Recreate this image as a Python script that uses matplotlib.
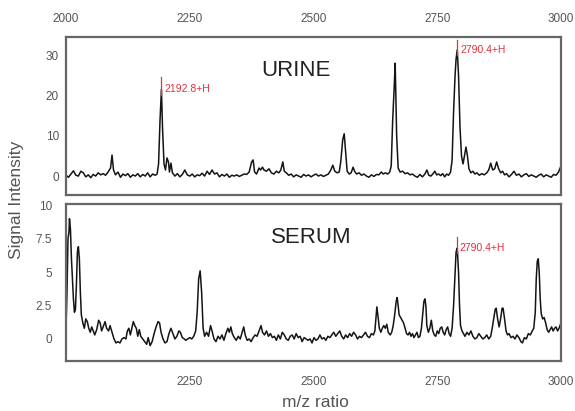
import matplotlib
matplotlib.use("Agg")
import matplotlib.pyplot as plt

plt.rcParams['font.family'] = ['Liberation Sans', 'DejaVu Sans']

# ---------------- data ----------------
urine_mz = [2000, 2005, 2010, 2015, 2020, 2025, 2030, 2035, 2040, 2045, 2050, 2055, 2060, 2065, 2070, 2075,
            2080, 2085, 2090, 2093, 2096, 2100, 2105, 2110, 2115, 2120, 2125, 2130, 2135, 2140, 2145, 2150,
            2155, 2160, 2165, 2170, 2175, 2180, 2184, 2187, 2190, 2192.8, 2195, 2198, 2201, 2204, 2207, 2209,
            2212, 2215, 2220, 2225, 2230, 2235, 2240, 2245, 2250, 2255, 2260, 2265, 2270, 2275, 2280, 2285,
            2290, 2295, 2300, 2305, 2310, 2315, 2320, 2325, 2330, 2335, 2340, 2345, 2350, 2355, 2360, 2365,
            2370, 2375, 2378, 2381, 2385, 2390, 2393, 2397, 2400, 2405, 2410, 2415, 2420, 2425, 2430, 2434,
            2438, 2441, 2445, 2450, 2455, 2460, 2465, 2470, 2475, 2480, 2485, 2490, 2495, 2500, 2505, 2510,
            2515, 2520, 2525, 2530, 2535, 2539, 2543, 2548, 2552, 2555, 2559, 2562, 2565, 2568, 2572, 2576,
            2580, 2583, 2587, 2592, 2597, 2602, 2607, 2612, 2617, 2622, 2627, 2632, 2637, 2641, 2645, 2650,
            2654, 2657, 2660, 2663, 2665, 2668, 2671, 2675, 2680, 2685, 2690, 2695, 2700, 2705, 2710, 2715,
            2720, 2725, 2729, 2733, 2737, 2741, 2745, 2749, 2753, 2757, 2761, 2765, 2769, 2773, 2777, 2780,
            2783, 2786, 2788, 2790.4, 2793, 2796, 2799, 2802, 2805, 2808, 2811, 2814, 2818, 2822, 2826, 2830,
            2835, 2840, 2845, 2850, 2854, 2858, 2862, 2866, 2870, 2874, 2878, 2882, 2886, 2890, 2895, 2900,
            2905, 2910, 2915, 2920, 2925, 2930, 2935, 2940, 2945, 2950, 2955, 2960, 2965, 2970, 2975, 2980,
            2985, 2990, 2995, 3000]
urine_int = [0.2, -0.3, 0.5, 1.3, 0.2, 0.0, 1.2, 0.8, -0.2, 0.3, -0.4, 0.4, 0.0, 0.8, 0.3, 0.6,
             0.2, 1.0, 2.0, 5.2, 1.5, 0.3, 1.0, -0.3, 0.5, 0.1, 0.6, -0.3, 0.3, 0.0, 0.6, -0.2,
             0.4, 0.0, 0.8, -0.2, 0.5, 0.2, 0.5, 3.0, 14.0, 21.5, 12.0, 3.0, 1.5, 4.5, 3.5, 1.0,
             3.2, 0.8, 0.0, 0.6, -0.2, 0.4, 1.5, 0.3, 0.0, 0.5, -0.2, 0.3, 0.1, 0.7, 0.0, 1.2,
             0.4, 1.5, 0.5, 0.8, -0.2, 0.4, 0.0, 0.5, -0.3, 0.2, 0.0, 0.3, -0.1, 0.2, 0.5, 0.4,
             1.0, 3.5, 4.0, 1.0, 0.5, 2.0, 1.5, 2.2, 1.5, 1.2, 1.8, 0.8, 0.5, 1.2, 0.8, 1.5,
             3.5, 1.2, 0.8, 0.2, 0.5, -0.2, 0.3, 0.0, -0.3, 0.4, 0.0, 0.3, -0.2, 0.2, 0.5, 0.0,
             0.3, -0.1, 0.2, 0.5, 1.5, 2.7, 1.2, 0.8, 1.0, 3.5, 9.0, 10.5, 6.0, 1.2, 0.5, 0.8,
             2.2, 1.2, 0.5, 0.8, 0.2, 0.5, 0.0, -0.3, 0.3, -0.1, 0.4, 0.3, 1.0, 0.5, 0.8, 0.5,
             1.0, 2.5, 14.0, 22.0, 28.0, 10.0, 2.0, 1.0, 1.2, 0.6, 0.8, 0.3, 0.5, 0.0, -0.3, 0.4,
             -0.2, 0.5, 1.5, 0.2, 0.0, 0.5, 1.2, 0.3, 0.5, 0.1, 0.6, -0.2, 0.5, 0.2, 1.0, 4.0,
             16.0, 25.0, 29.0, 31.3, 25.0, 12.0, 5.0, 3.0, 5.0, 7.2, 5.0, 1.8, 0.8, 1.2, 0.5, 0.8,
             0.2, 0.6, 0.3, 0.8, 1.5, 3.2, 1.5, 1.8, 3.5, 1.8, 0.8, 1.2, 0.3, 0.6, -0.2, 0.4,
             1.2, 0.2, 0.5, -0.2, 0.3, 0.6, -0.1, 0.3, 0.0, -0.3, 0.2, 0.5, -0.2, 0.3, 0.0, -0.3,
             0.4, 0.2, 1.0, 2.5]

serum_mz = [2000, 2002, 2004, 2006, 2007, 2009, 2011, 2013, 2015, 2017, 2019, 2021, 2023, 2025, 2027, 2029,
            2031, 2034, 2037, 2040, 2043, 2046, 2049, 2052, 2055, 2058, 2062, 2066, 2069, 2072, 2075, 2079,
            2082, 2086, 2089, 2093, 2097, 2101, 2105, 2109, 2113, 2117, 2121, 2124, 2127, 2130, 2133, 2136,
            2139, 2142, 2145, 2148, 2151, 2155, 2159, 2163, 2166, 2170, 2174, 2178, 2182, 2186, 2189, 2192,
            2196, 2200, 2204, 2208, 2212, 2216, 2220, 2224, 2228, 2231, 2235, 2239, 2242, 2246, 2250, 2254,
            2258, 2262, 2265, 2268, 2271, 2274, 2277, 2280, 2284, 2288, 2292, 2295, 2299, 2303, 2307, 2311,
            2315, 2319, 2323, 2327, 2330, 2333, 2336, 2340, 2344, 2348, 2352, 2356, 2359, 2362, 2366, 2370,
            2374, 2378, 2382, 2386, 2390, 2394, 2397, 2401, 2405, 2409, 2413, 2417, 2421, 2425, 2429, 2433,
            2437, 2441, 2445, 2449, 2453, 2457, 2461, 2465, 2469, 2473, 2477, 2481, 2485, 2489, 2493, 2497,
            2501, 2505, 2509, 2513, 2517, 2521, 2525, 2529, 2533, 2537, 2541, 2545, 2549, 2553, 2557, 2561,
            2565, 2569, 2573, 2577, 2581, 2585, 2589, 2593, 2597, 2601, 2605, 2609, 2613, 2617, 2621, 2624,
            2626, 2628, 2630, 2633, 2636, 2639, 2642, 2645, 2648, 2651, 2655, 2658, 2661, 2664, 2667, 2669,
            2671, 2673, 2676, 2679, 2682, 2685, 2688, 2691, 2694, 2697, 2700, 2703, 2706, 2709, 2712, 2715,
            2718, 2721, 2723, 2725, 2727, 2729, 2732, 2735, 2738, 2741, 2744, 2747, 2750, 2753, 2756, 2759,
            2762, 2765, 2768, 2771, 2774, 2777, 2780, 2783, 2786, 2788, 2790.4, 2793, 2795, 2797, 2800, 2803,
            2806, 2810, 2814, 2818, 2822, 2826, 2830, 2834, 2838, 2842, 2846, 2850, 2854, 2858, 2861, 2864,
            2867, 2869, 2872, 2875, 2878, 2881, 2883, 2886, 2889, 2892, 2895, 2899, 2903, 2907, 2911, 2915,
            2919, 2922, 2926, 2930, 2934, 2938, 2942, 2945, 2948, 2950, 2952, 2954, 2956, 2958, 2960, 2963,
            2966, 2969, 2972, 2975, 2978, 2981, 2984, 2987, 2990, 2993, 2996, 2999, 3000]
serum_int = [0.8, 3.5, 7.5, 8.0, 9.0, 8.2, 6.0, 4.5, 3.0, 2.0, 2.2, 4.0, 6.5, 6.9, 6.0, 3.5,
             1.8, 1.2, 0.8, 1.5, 1.3, 0.8, 0.5, 0.9, 0.6, 0.3, 0.7, 1.4, 1.2, 0.6, 0.9, 1.3,
             0.8, 0.6, 1.0, 0.5, 0.0, -0.3, -0.2, -0.3, 0.0, 0.1, 0.0, 0.6, 0.8, 0.3, 0.8, 1.3,
             1.0, 0.8, 0.2, 0.7, 0.2, 0.0, -0.2, -0.4, 0.1, -0.5, -0.2, 0.4, 0.9, 1.3, 1.2, 0.5,
             0.0, -0.3, -0.2, 0.4, 0.8, 0.4, 0.0, 0.2, 0.6, 0.5, 0.1, 0.0, -0.1, 0.0, 0.1, 0.0,
             0.2, 0.6, 2.0, 4.5, 5.1, 3.5, 0.8, 0.2, 0.5, 0.2, 1.0, 0.6, 0.0, -0.2, 0.2, 0.0,
             0.3, -0.1, 0.4, 0.8, 0.5, 0.9, 0.4, 0.1, -0.1, 0.2, 0.0, 0.5, 0.9, 0.3, -0.1, 0.0,
             -0.2, 0.1, 0.3, 0.2, 0.6, 1.0, 0.5, 0.3, 0.6, 0.2, 0.4, 0.1, 0.2, -0.1, 0.3, 0.0,
             0.5, 0.3, 0.0, -0.1, 0.2, 0.3, 0.0, 0.4, 0.1, 0.2, -0.2, 0.1, 0.0, -0.1, 0.0, -0.3,
             0.1, -0.1, 0.0, 0.3, 0.0, 0.1, -0.1, 0.2, 0.1, 0.3, 0.5, 0.2, 0.4, 0.6, 0.2, 0.0,
             0.3, 0.1, 0.4, 0.2, 0.5, 0.3, 0.0, 0.2, 0.1, 0.3, 0.5, 0.2, 0.1, 0.4, 0.3, 0.6,
             1.5, 2.4, 1.8, 0.8, 0.5, 0.8, 1.0, 0.8, 1.1, 0.5, 0.3, 0.5, 1.0, 1.8, 2.8, 3.1,
             2.5, 1.8, 1.6, 1.4, 1.2, 0.8, 0.4, 0.3, 0.5, 0.2, 0.4, 0.1, 0.3, 0.5, 0.1, 0.2,
             0.8, 2.0, 2.8, 3.0, 2.5, 1.0, 0.5, 0.8, 1.4, 0.6, 0.3, 0.2, 0.6, 0.4, 0.8, 0.9,
             0.5, 0.3, 0.7, 0.9, 0.4, 0.2, 0.8, 2.5, 5.0, 6.5, 6.8, 5.0, 2.5, 1.0, 0.6, 0.4,
             0.2, 0.5, 0.3, 0.6, 0.2, 0.0, 0.1, 0.4, 0.2, 0.0, 0.1, 0.3, 0.0, 0.2, 0.8, 1.5,
             2.2, 2.3, 1.5, 0.9, 1.5, 2.3, 2.3, 1.5, 0.6, 0.3, 0.4, 0.1, 0.2, 0.0, 0.3, 0.1,
             -0.2, -0.3, 0.1, 0.0, 0.4, 0.3, 0.6, 0.8, 2.0, 4.5, 5.8, 6.0, 5.0, 3.0, 1.9, 1.5,
             1.6, 1.2, 0.7, 0.5, 0.7, 0.9, 0.6, 0.8, 0.9, 0.6, 0.8, 1.1, 1.2]

top_xticks = [2000, 2250, 2500, 2750, 3000]
bottom_xticks = [2250, 2500, 2750, 3000]
top_yticks = [0, 10, 20, 30]
top_yticklabels = ["0", "10", "20", "30"]
bottom_yticks = [0, 2.5, 5, 7.5, 10]
bottom_yticklabels = ["0", "2.5", "5", "7.5", "10"]

urine_label = "URINE"
serum_label = "SERUM"
urine_peaks = [(2192.8, 21.5, "2192.8+H"), (2790.4, 31.3, "2790.4+H")]
serum_peaks = [(2790.4, 6.8, "2790.4+H")]

# ---------------- figure ----------------
W, H = 575, 411
fig = plt.figure(figsize=(W / 100, H / 100), dpi=100)

def fx(px):
    return px / W

def fy(py):
    return 1 - py / H

ax1 = fig.add_axes([fx(66), fy(195), fx(561) - fx(66), fy(37) - fy(195)])
ax2 = fig.add_axes([fx(66), fy(361), fx(561) - fx(66), fy(204) - fy(361)])

line_color = '#141414'
frame_color = '#666666'
tick_color = '#555555'
red = '#e0303a'

for ax in (ax1, ax2):
    ax.set_xlim(2000, 3000)
    for s in ax.spines.values():
        s.set_color(frame_color)
        s.set_linewidth(1.6)
    ax.tick_params(length=0, colors=tick_color, labelsize=8.5)

ax1.plot(urine_mz, urine_int, color=line_color, lw=1.1)
ax1.set_ylim(-4.7, 34.5)
ax1.set_xticks(top_xticks)
ax1.set_xticklabels([str(t) for t in top_xticks])
ax1.xaxis.set_ticks_position('top')
ax1.tick_params(axis='x', pad=9)
ax1.set_yticks(top_yticks)
ax1.set_yticklabels(top_yticklabels)
ax1.tick_params(axis='y', pad=5, labelsize=8.5)
ax1.text(2465, 26.3, urine_label, fontsize=16, color='#222222', ha='center', va='center')

ax2.plot(serum_mz, serum_int, color=line_color, lw=1.1)
ax2.set_ylim(-1.65, 10.1)
ax2.set_xticks(bottom_xticks)
ax2.set_xticklabels([str(t) for t in bottom_xticks])
ax2.tick_params(axis='x', pad=11)
ax2.set_yticks(bottom_yticks)
ax2.set_yticklabels(bottom_yticklabels)
ax2.tick_params(axis='y', pad=10, labelsize=8.5)
ax2.text(2495, 7.6, serum_label, fontsize=16, color='#222222', ha='center', va='center')

def annotate(ax, peaks, top_extra, dx):
    for mz, val, lab in peaks:
        ax.plot([mz, mz], [val - 0.5 * top_extra, val + top_extra], color=red, lw=0.9)
        ax.text(mz + dx, val, lab, color=red, fontsize=7.5, ha='left', va='center')

annotate(ax1, urine_peaks[:1], 3.0, 6)
annotate(ax1, urine_peaks[1:], 2.4, 6)
annotate(ax2, serum_peaks, 0.8, 5)

fig.text(fx(17), fy(200), "Signal Intensity", rotation=90, fontsize=12.5,
         color='#555555', ha='center', va='center')
fig.text(fx(315), fy(402), "m/z ratio", fontsize=12.5, color='#555555',
         ha='center', va='center')

fig.savefig("out.png", dpi=100)
